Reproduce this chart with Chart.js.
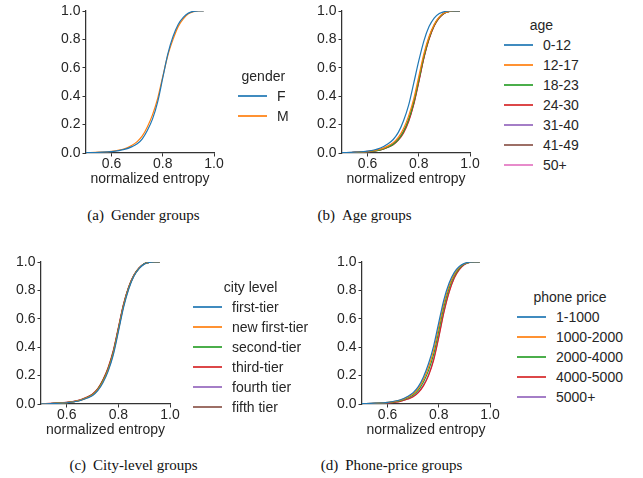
<!DOCTYPE html>
<html>
<head>
<meta charset="utf-8">
<script src="https://cdn.jsdelivr.net/npm/chart.js@4.4.0/dist/chart.umd.min.js"></script>
<style>
    body { margin: 0; background: #fff; width: 643px; height: 478px; position: relative; overflow: hidden;
           font-family: 'Liberation Sans', Arial, sans-serif; color: #262626; }
    canvas { position: absolute; }
    .legend { position: absolute; font-size: 14px; }
    .legend .ttl { text-align: center; line-height: 20px; height: 20px; }
    .legend .row { height: 20px; display: flex; align-items: center; white-space: nowrap; }
    .legend .swatch { display: inline-block; width: 29px; height: 2px; margin-right: 10px; opacity: 0.85; }
    .cap { position: absolute; font-family: 'Liberation Serif', 'DejaVu Serif', serif; font-size: 15px; line-height: 18px;
           color: #111; white-space: nowrap; transform: translateX(-50%); }
    .cap span { margin-right: 7px; }
</style>
</head>
<body>
<canvas id="chartA"></canvas>
<canvas id="chartB"></canvas>
<canvas id="chartC"></canvas>
<canvas id="chartD"></canvas>
<div class="legend" id="legendA"></div>
<div class="legend" id="legendB"></div>
<div class="legend" id="legendC"></div>
<div class="legend" id="legendD"></div>
<div class="cap" style="left:143.5px; top:206px"><span>(a)</span>Gender groups</div>
<div class="cap" style="left:364.5px; top:206px"><span>(b)</span>Age groups</div>
<div class="cap" style="left:133.5px; top:456px"><span>(c)</span>City-level groups</div>
<div class="cap" style="left:391.5px; top:456px"><span>(d)</span>Phone-price groups</div>

<script>
// CDF of normalized entropy per user group, 4 panels

// shared x positions (normalized entropy) where the curves were read
const entropyGrid = [0.5, 0.55, 0.6, 0.65, 0.68, 0.7, 0.72, 0.74, 0.76, 0.78, 0.8, 0.82, 0.84, 0.86, 0.88, 0.9, 0.92, 0.94, 0.96];
const xTicks = [0.6, 0.8, 1.0];
const yTicks = [0, 0.2, 0.4, 0.6, 0.8, 1.0];
const xTitle = 'normalized entropy';

const palette = ['#1f77b4', '#ff7f0e', '#2ca02c', '#d62728', '#9467bd', '#8c564b', '#e377c2'];

// (a) gender
const genderLabels = ['F', 'M'];
const genderF = [0.002, 0.005, 0.01, 0.025, 0.045, 0.065, 0.1, 0.16, 0.24, 0.36, 0.53, 0.7, 0.82, 0.905, 0.955, 0.985, 0.998, 1, 1];
const genderM = [0.002, 0.006, 0.012, 0.03, 0.055, 0.08, 0.12, 0.185, 0.27, 0.385, 0.54, 0.69, 0.8, 0.89, 0.945, 0.98, 0.996, 1, 1];

// (b) age
const ageLabels = ['0-12', '12-17', '18-23', '24-30', '31-40', '41-49', '50+'];
const age0_12  = [0.002, 0.006, 0.013, 0.035, 0.065, 0.095, 0.145, 0.225, 0.335, 0.49, 0.65, 0.79, 0.89, 0.95, 0.982, 0.996, 1, 1, 1];
const age12_17 = [0.002, 0.005, 0.011, 0.027, 0.05, 0.073, 0.11, 0.17, 0.26, 0.38, 0.54, 0.7, 0.82, 0.905, 0.958, 0.987, 0.998, 1, 1];
const age18_23 = [0.001, 0.004, 0.009, 0.022, 0.042, 0.062, 0.095, 0.15, 0.235, 0.355, 0.515, 0.68, 0.81, 0.9, 0.955, 0.986, 0.998, 1, 1];
const age24_30 = [0.001, 0.004, 0.009, 0.021, 0.04, 0.058, 0.09, 0.14, 0.22, 0.34, 0.5, 0.67, 0.8, 0.895, 0.952, 0.985, 0.997, 1, 1];
const age31_40 = [0.001, 0.004, 0.009, 0.022, 0.041, 0.06, 0.092, 0.145, 0.225, 0.345, 0.505, 0.672, 0.805, 0.897, 0.953, 0.985, 0.997, 1, 1];
const age41_49 = [0.001, 0.005, 0.01, 0.024, 0.044, 0.064, 0.097, 0.15, 0.23, 0.35, 0.51, 0.675, 0.807, 0.898, 0.954, 0.986, 0.997, 1, 1];
const age50up  = [0.002, 0.005, 0.011, 0.026, 0.047, 0.068, 0.1, 0.155, 0.235, 0.355, 0.515, 0.68, 0.81, 0.9, 0.955, 0.986, 0.998, 1, 1];

// (c) city level
const cityLabels = ['first-tier', 'new first-tier', 'second-tier', 'third-tier', 'fourth tier', 'fifth tier'];
const cityFirst    = [0.001, 0.004, 0.009, 0.023, 0.042, 0.06, 0.094, 0.15, 0.23, 0.345, 0.51, 0.68, 0.81, 0.9, 0.953, 0.985, 0.997, 1, 1];
const cityNewFirst = [0.002, 0.005, 0.01, 0.025, 0.045, 0.064, 0.099, 0.157, 0.238, 0.355, 0.52, 0.69, 0.815, 0.903, 0.955, 0.986, 0.998, 1, 1];
const citySecond   = [0.002, 0.005, 0.01, 0.026, 0.047, 0.067, 0.103, 0.163, 0.245, 0.363, 0.528, 0.695, 0.82, 0.905, 0.956, 0.987, 0.998, 1, 1];
const cityThird    = [0.002, 0.006, 0.011, 0.028, 0.05, 0.071, 0.108, 0.17, 0.255, 0.375, 0.54, 0.705, 0.826, 0.908, 0.958, 0.988, 0.998, 1, 1];
const cityFourth   = [0.002, 0.005, 0.011, 0.027, 0.048, 0.069, 0.105, 0.166, 0.25, 0.368, 0.533, 0.7, 0.823, 0.906, 0.957, 0.987, 0.998, 1, 1];
const cityFifth    = [0.002, 0.005, 0.01, 0.026, 0.047, 0.068, 0.104, 0.165, 0.248, 0.366, 0.53, 0.698, 0.821, 0.905, 0.956, 0.987, 0.998, 1, 1];

// (d) phone price
const priceLabels = ['1-1000', '1000-2000', '2000-4000', '4000-5000', '5000+'];
const price1_1000    = [0.002, 0.006, 0.012, 0.03, 0.055, 0.08, 0.122, 0.19, 0.285, 0.41, 0.575, 0.735, 0.85, 0.925, 0.968, 0.99, 0.999, 1, 1];
const price1000_2000 = [0.002, 0.005, 0.011, 0.027, 0.05, 0.072, 0.11, 0.172, 0.26, 0.38, 0.545, 0.71, 0.832, 0.913, 0.962, 0.988, 0.998, 1, 1];
const price2000_4000 = [0.001, 0.005, 0.01, 0.024, 0.044, 0.064, 0.098, 0.155, 0.237, 0.352, 0.515, 0.685, 0.815, 0.903, 0.956, 0.986, 0.998, 1, 1];
const price4000_5000 = [0.001, 0.004, 0.008, 0.019, 0.035, 0.051, 0.08, 0.128, 0.2, 0.31, 0.47, 0.645, 0.785, 0.885, 0.946, 0.982, 0.997, 1, 1];
const price5000up    = [0.001, 0.004, 0.008, 0.02, 0.037, 0.054, 0.084, 0.133, 0.207, 0.318, 0.478, 0.652, 0.79, 0.888, 0.948, 0.983, 0.997, 1, 1];

// plot area of each panel on the page, and where its legend sits
const panels = [
    { canvas: 'chartA', legend: 'legendA', title: 'gender', labels: genderLabels, series: [genderF, genderM],
      plot: { left: 86, top: 11, width: 128, height: 142 }, legendPos: { left: 238, top: 66 } },
    { canvas: 'chartB', legend: 'legendB', title: 'age', labels: ageLabels,
      series: [age0_12, age12_17, age18_23, age24_30, age31_40, age41_49, age50up],
      plot: { left: 342, top: 11, width: 128, height: 142 }, legendPos: { left: 504, top: 15 } },
    { canvas: 'chartC', legend: 'legendC', title: 'city level', labels: cityLabels,
      series: [cityFirst, cityNewFirst, citySecond, cityThird, cityFourth, cityFifth],
      plot: { left: 41, top: 262, width: 129, height: 142 }, legendPos: { left: 193, top: 277 } },
    { canvas: 'chartD', legend: 'legendD', title: 'phone price', labels: priceLabels,
      series: [price1_1000, price1000_2000, price2000_4000, price4000_5000, price5000up],
      plot: { left: 362, top: 262, width: 128, height: 142 }, legendPos: { left: 517, top: 287 } }
];

const AXIS_W = 60, AXIS_H = 46, PAD_TOP = 11, PAD_RIGHT = 24;
const tickFont = { family: "'Liberation Sans', Arial, sans-serif", size: 14 };
const inkColor = '#262626';

function toPoints(values) {
    return values.map((y, i) => ({ x: entropyGrid[i], y: y }));
}

function buildLegend(chart, el, title) {
    let html = '<div class="ttl">' + title + '</div>';
    chart.data.datasets.forEach(ds => {
        html += '<div class="row"><span class="swatch" style="background:' + ds.borderColor + '"></span>' + ds.label + '</div>';
    });
    el.innerHTML = html;
}

panels.forEach(p => {
    const canvas = document.getElementById(p.canvas);
    const w = p.plot.width + AXIS_W + PAD_RIGHT;
    const h = p.plot.height + PAD_TOP + AXIS_H;
    canvas.width = w;
    canvas.height = h;
    canvas.style.left = (p.plot.left - AXIS_W) + 'px';
    canvas.style.top = (p.plot.top - PAD_TOP) + 'px';

    const datasets = p.labels.map((label, i) => ({
        label: label,
        data: toPoints(p.series[i]),
        borderColor: palette[i],
        borderWidth: 1.2,
        pointRadius: 0,
        fill: false,
        cubicInterpolationMode: 'monotone'
    }));

    const chart = new Chart(canvas, {
        type: 'line',
        data: { datasets: datasets },
        options: {
            responsive: false,
            animation: false,
            devicePixelRatio: 1,
            layout: { padding: { top: PAD_TOP, right: PAD_RIGHT, left: 0, bottom: 0 } },
            plugins: { legend: { display: false }, tooltip: { enabled: false } },
            scales: {
                x: {
                    type: 'linear',
                    min: 0.5,
                    max: 1.0,
                    afterBuildTicks: scale => { scale.ticks = xTicks.map(v => ({ value: v })); },
                    afterFit: scale => { scale.height = AXIS_H; },
                    grid: { drawOnChartArea: false, drawTicks: true, tickLength: 3.5, tickColor: '#333', tickWidth: 1 },
                    border: { display: true, color: '#333', width: 1.25 },
                    ticks: { font: tickFont, color: inkColor, padding: -1, maxRotation: 0,
                             callback: v => Number(v).toFixed(1) },
                    title: { display: true, text: xTitle, font: tickFont, color: inkColor, padding: { top: 0, bottom: 11.6 } }
                },
                y: {
                    type: 'linear',
                    min: 0,
                    max: 1.0,
                    afterBuildTicks: scale => { scale.ticks = yTicks.map(v => ({ value: v })); },
                    afterFit: scale => { scale.width = AXIS_W; },
                    grid: { drawOnChartArea: false, drawTicks: true, tickLength: 3.5, tickColor: '#333', tickWidth: 1 },
                    border: { display: true, color: '#333', width: 1.25 },
                    ticks: { font: tickFont, color: inkColor, padding: 2,
                             callback: v => Number(v).toFixed(1) }
                }
            }
        }
    });

    const legendEl = document.getElementById(p.legend);
    legendEl.style.left = p.legendPos.left + 'px';
    legendEl.style.top = p.legendPos.top + 'px';
    buildLegend(chart, legendEl, p.title);
});
</script>
</body>
</html>
